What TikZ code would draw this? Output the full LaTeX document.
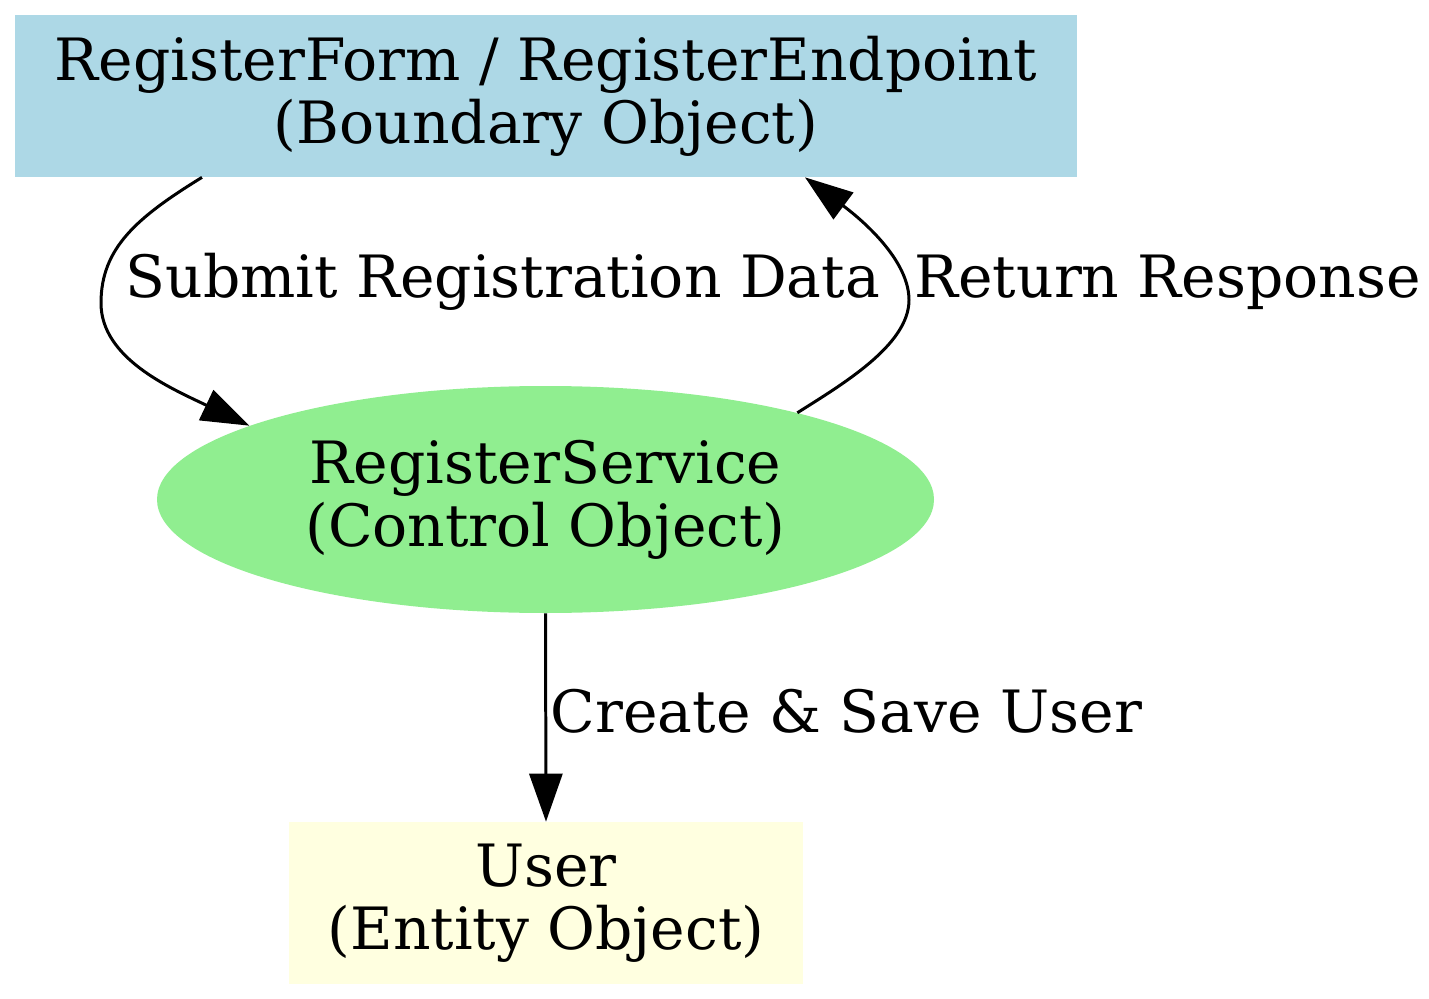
\documentclass[tikz,border=0pt]{standalone}
\usepackage{fontspec}
\setmainfont{DejaVu Serif}
\usetikzlibrary{arrows.meta,shapes.geometric}
\definecolor{boundaryblue}{RGB}{173,216,230}
\definecolor{controlgreen}{RGB}{144,238,144}
\definecolor{entityyellow}{RGB}{255,255,224}

\begin{document}
\begin{tikzpicture}[
  boundary/.style={rectangle, fill=boundaryblue, minimum width=21.24cm, minimum height=3.24cm, align=center, inner sep=0pt},
  control/.style={ellipse, fill=controlgreen, minimum width=15.54cm, minimum height=4.54cm, align=center, inner sep=0pt},
  entity/.style={rectangle, fill=entityyellow, minimum width=10.28cm, minimum height=3.24cm, align=center, inner sep=0pt},
  flow/.style={line width=1.7pt, -{Triangle[length=0.96cm, width=0.66cm]}},
  flowlabel/.style={anchor=base west, inner sep=0pt},
  font=\fontsize{33.2}{36}\selectfont]
\useasboundingbox (0,0) rectangle (28.58,-19.98);
\node[boundary] (form) at (10.92,-1.92) {RegisterForm / RegisterEndpoint\\(Boundary Object)};
\node[control] (service) at (10.91,-9.99) {RegisterService\\(Control Object)};
\node[entity] (user) at (10.92,-18.06) {User\\(Entity Object)};
\draw[flow] ([xshift=-6.88cm]form.south) .. controls +(-1.3,-0.8) and +(0,1.1) .. (2.02,-6.06)
  node[flowlabel, xshift=0.46cm, yshift=0.12cm] {Submit Registration Data}
  .. controls +(0,-1.1) and +(-1.6,0.76) .. (service.166);
\draw[flow] (service.19) .. controls +(0.9,0.57) and +(0,-0.9) .. (18.18,-6.0)
  node[flowlabel, xshift=0.08cm, yshift=0.06cm] {Return Response}
  .. controls +(0,0.9) and +(0.9,-0.67) .. ([xshift=5.18cm]form.south);
\draw[flow] (service.south) -- (user.north) node[flowlabel, pos=0.57, xshift=0.07cm] {Create \& Save User};
\end{tikzpicture}
\end{document}
